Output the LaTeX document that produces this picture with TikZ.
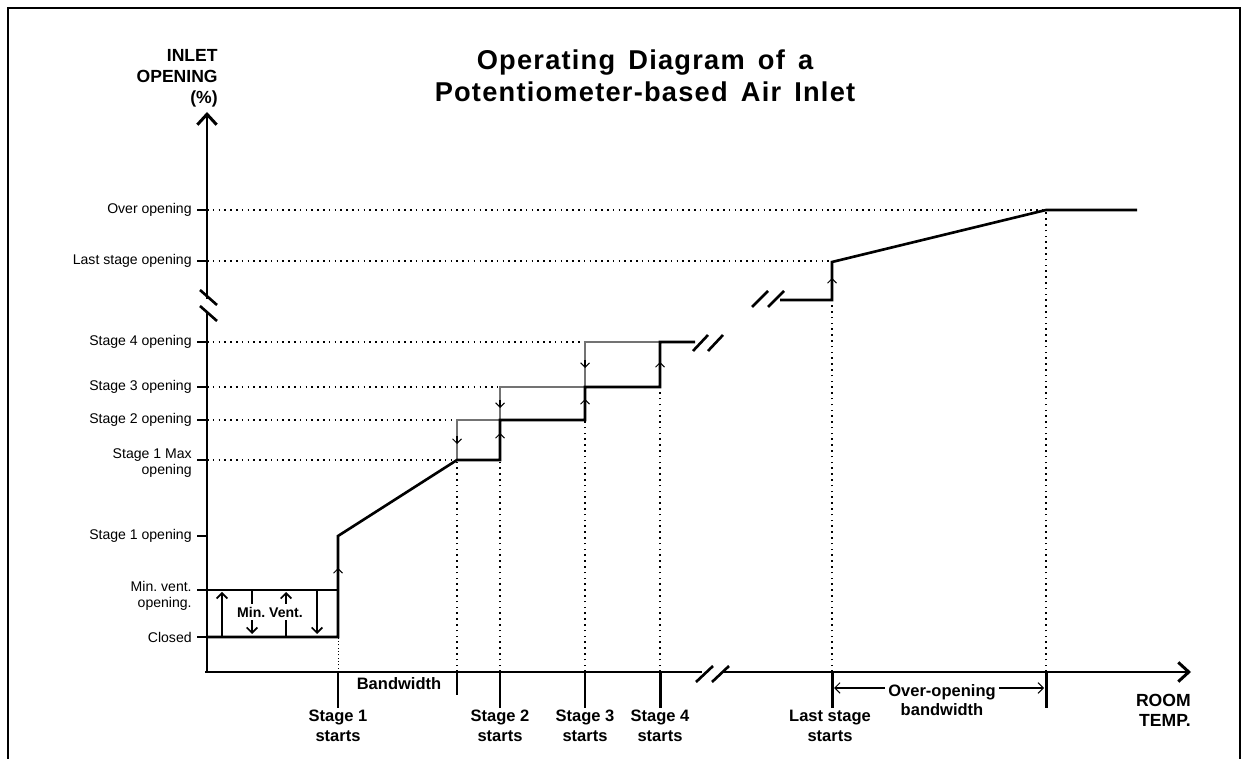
\documentclass[tikz,border=0pt]{standalone}
\usepackage{fontspec}
\setmainfont{Liberation Sans}
\newfontfamily\titlefont[LetterSpace=4.5,WordSpace=1.5]{Liberation Sans}
\usetikzlibrary{arrows.meta}

\tikzset{
  axis/.style={line width=1.7pt},
  curve/.style={line width=1.5pt},
  hyst/.style={line width=0.6pt, black!55},
  dotline/.style={line width=0.85pt, dash pattern=on 0.9pt off 2.4pt},
  ytick/.style={line width=1.3pt},
  midtip/.style={line width=0.6pt, -{Straight Barb[length=2.5pt,width=5pt]}},
  ventarrow/.style={line width=1pt, -{Straight Barb[length=3pt,width=6pt]}},
  brk/.style={line width=1.5pt},
  ylab/.style={anchor=east, align=right, inner sep=0pt, font=\fontsize{8}{9.5}\selectfont},
  xlab/.style={anchor=north, align=center, inner sep=0pt, font=\bfseries\fontsize{9.4}{11}\selectfont},
}

\begin{document}
\frenchspacing
\begin{tikzpicture}[x=0.02cm, y=-0.02cm]
  \useasboundingbox (0,0) rectangle (1248,759);
  % frame
  \draw[line width=1.2pt] (8,770) -- (8,8) -- (1240,8) -- (1240,770);

  % title and axis names
  \node[align=center, font=\titlefont\bfseries\fontsize{15.5}{18.5}\selectfont] (title) at (645,76)
    {Operating Diagram of a\\Potentiometer-based Air Inlet};
  \node[anchor=east, align=right, inner sep=0pt, font=\bfseries\fontsize{10}{12}\selectfont] (yname) at (218,78)
    {INLET\\OPENING\\(\%)};
  \node[anchor=east, align=right, inner sep=0pt, font=\bfseries\fontsize{10}{11.5}\selectfont] (xname) at (1191,710)
    {ROOM\\TEMP.};

  % axes with breaks
  \draw[axis] (207,672) -- (207,312);
  \draw[axis, -{Straight Barb[length=6pt,width=11pt]}] (207,299) -- (207,112);
  \draw[brk] (200,290) -- (217,305);
  \draw[brk] (200,306) -- (217,321);
  \draw[axis] (205,672) -- (702,672);
  \draw[axis, -{Straight Barb[length=6pt,width=11pt]}] (722,672) -- (1191,672);
  \draw[brk] (696,682) -- (713,666);
  \draw[brk] (712,682) -- (729,666);

  % y ticks and labels
  \foreach \yy/\txt/\nm in {210/Over opening/lover, 261/Last stage opening/llast,
      342/Stage 4 opening/lsfour, 387/Stage 3 opening/lsthree,
      420/Stage 2 opening/lstwo, 536/Stage 1 opening/lsone, 637/Closed/lclosed}
  {
    \draw[ytick] (197,\yy) -- (207,\yy);
    \node[ylab] (\nm) at (192,\yy) {\txt};
  }
  \draw[ytick] (197,460) -- (207,460);
  \node[ylab] (lsmax) at (192,463) {Stage 1 Max\\opening};
  \draw[ytick] (197,590) -- (207,590);
  \node[ylab] (lminv) at (192,596) {Min. vent.\\opening.};

  % dotted guides
  \draw[dotline] (207,210) -- (1046,210);
  \draw[dotline] (207,261) -- (832,261);
  \draw[dotline] (207,342) -- (585,342);
  \draw[dotline] (207,387) -- (500,387);
  \draw[dotline] (207,420) -- (457,420);
  \draw[dotline] (207,460) -- (457,460);
  \foreach \xx/\yy in {457/460, 500/420, 585/387, 660/342, 832/300, 1046/210}
    \draw[dotline] (\xx,672) -- (\xx,\yy);
  \draw[line width=0.5pt, dash pattern=on 0.6pt off 1.3pt] (338,672) -- (338,637);

  % x ticks and labels
  \foreach \xx in {338,500,585,660,832,1046}
    \draw[axis] (\xx,672) -- (\xx,708);
  \draw[line width=1.2pt] (457,672) -- (457,695);
  \node[xlab] (tsone) at (338,710) {Stage 1\\starts};
  \node[xlab] (tstwo) at (500,710) {Stage 2\\starts};
  \node[xlab] (tsthree) at (585,710) {Stage 3\\starts};
  \node[xlab] (tsfour) at (660,710) {Stage 4\\starts};
  \node[xlab] (tlast) at (830,710) {Last stage\\starts};
  \node[font=\bfseries\fontsize{9.4}{11}\selectfont, inner sep=0pt] (band) at (399,684) {Bandwidth};
  \coordinate (ovl) at (834,688);
  \coordinate (ovr) at (1044,688);
  \draw[line width=0.6pt, {Straight Barb[length=3pt,width=6pt]}-{Straight Barb[length=3pt,width=6pt]}] (ovl) -- (ovr);
  \node[fill=white, align=center, inner sep=2pt, font=\bfseries\fontsize{9.4}{11}\selectfont] (oband) at (942,700)
    {Over-opening\\bandwidth};

  % hysteresis (closing) path
  \draw[hyst] (457,460) -- (457,420) -- (500,420);
  \draw[hyst] (500,420) -- (500,387) -- (585,387);
  \draw[hyst] (585,387) -- (585,342) -- (660,342);
  \foreach \xx/\yy in {457/444, 500/408, 585/368}
    \draw[midtip] (\xx,\yy-8) -- (\xx,\yy);

  % opening curve
  \draw[curve] (207,637) -- (338,637) -- (338,536) -- (457,460) -- (500,460) -- (500,420)
    -- (585,420) -- (585,387) -- (660,387) -- (660,342) -- (695,342);
  \draw[curve] (207,590) -- (338,590);
  \draw[brk] (693,351) -- (708,335);
  \draw[brk] (708,351) -- (723,335);
  \draw[brk] (752,307) -- (768,291);
  \draw[brk] (768,307) -- (784,291);
  \draw[curve] (780,300) -- (832,300) -- (832,262) -- (1046,210) -- (1137,210);
  \foreach \xx/\yy in {338/568, 500/433, 585/399, 660/362, 832/278}
    \draw[midtip] (\xx,\yy+8) -- (\xx,\yy);

  % min. vent. band
  \draw[ventarrow] (222,636) -- (222,592);
  \draw[ventarrow] (252,591) -- (252,634);
  \draw[ventarrow] (286,636) -- (286,592);
  \draw[ventarrow] (317,591) -- (317,634);
  \node[fill=white, inner sep=1.5pt, font=\bfseries\fontsize{8}{9}\selectfont] (minv) at (270,612) {Min. Vent.};
\end{tikzpicture}
\end{document}
